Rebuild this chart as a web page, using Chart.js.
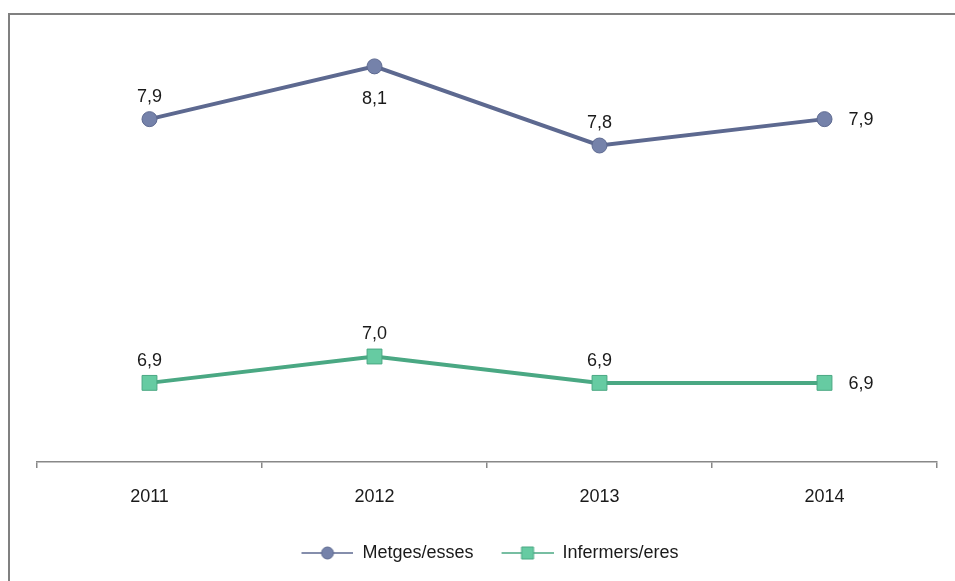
<!DOCTYPE html>
<html>
<head>
<meta charset="utf-8">
<script src="https://cdn.jsdelivr.net/npm/chart.js@4"></script>
<style>
  html, body { margin: 0; padding: 0; background: #fff; }
  #wrap { position: relative; width: 955px; height: 581px; overflow: hidden; }
  #frame { position: absolute; left: 8px; top: 13px; width: 1000px; height: 700px;
           border-left: 2px solid #808080; border-top: 2px solid #808080; }
  canvas { position: absolute; left: 0; top: 0; }
</style>
</head>
<body>
<div id="wrap">
  <div id="frame"></div>
  <canvas id="chart" width="955" height="581"></canvas>
</div>
<script>
// data
const years = ['2011', '2012', '2013', '2014'];
const metges = [7.9, 8.1, 7.8, 7.9];
const infermers = [6.9, 7.0, 6.9, 6.9];
const seriesNames = ['Metges/esses', 'Infermers/eres'];

// where each value label sits next to its point
const metgesLabelPos = ['above', 'below', 'above', 'right'];
const infermersLabelPos = ['above', 'above', 'above', 'right'];

const blueLine = '#5d6990';
const blueFill = '#7582aa';
const greenLine = '#4aa883';
const greenFill = '#66cba2';

// small images for the legend: line with marker in the middle
function legendIcon(lineColor, fillColor, shape) {
    const c = document.createElement('canvas');
    c.width = 70;
    c.height = 18;
    const g = c.getContext('2d');
    g.strokeStyle = lineColor;
    g.lineWidth = 1.5;
    g.beginPath();
    g.moveTo(18, 9);
    g.lineTo(70, 9);
    g.stroke();
    g.fillStyle = fillColor;
    g.lineWidth = 1;
    g.beginPath();
    if (shape === 'circle') {
        g.arc(44, 9, 6, 0, Math.PI * 2);
    } else {
        g.rect(38, 3, 12, 12);
    }
    g.fill();
    g.stroke();
    return c;
}
const icons = [legendIcon(blueLine, blueFill, 'circle'), legendIcon(greenLine, greenFill, 'rect')];

const valueLabels = {
    id: 'valueLabels',
    afterDatasetsDraw(chart) {
        const ctx = chart.ctx;
        const positions = [metgesLabelPos, infermersLabelPos];
        ctx.save();
        ctx.font = '18px "Liberation Sans", Arial, sans-serif';
        ctx.fillStyle = '#1a1a1a';
        ctx.textBaseline = 'middle';
        chart.data.datasets.forEach((ds, i) => {
            chart.getDatasetMeta(i).data.forEach((pt, j) => {
                const txt = ds.data[j].toFixed(1).replace('.', ',');
                const pos = positions[i][j];
                if (pos === 'right') {
                    ctx.textAlign = 'left';
                    ctx.fillText(txt, pt.x + 24, pt.y + 1);
                } else if (pos === 'below') {
                    ctx.textAlign = 'center';
                    ctx.fillText(txt, pt.x, pt.y + 33);
                } else {
                    ctx.textAlign = 'center';
                    ctx.fillText(txt, pt.x, pt.y - 22);
                }
            });
        });
        ctx.restore();
    }
};

// nudge the legend a little to the left, like the original
const legendShift = {
    id: 'legendShift',
    afterLayout(chart) {
        chart.legend.left -= 6;
        chart.legend.right -= 6;
    }
};

Chart.defaults.font.family = '"Liberation Sans", Arial, sans-serif';
Chart.defaults.font.size = 18;
Chart.defaults.color = '#1a1a1a';

document.addEventListener('DOMContentLoaded', function() {
    const ctx = document.getElementById('chart').getContext('2d');

    new Chart(ctx, {
        type: 'line',
        data: {
            labels: years,
            datasets: [
                {
                    label: seriesNames[0],
                    data: metges,
                    borderColor: blueLine,
                    borderWidth: 4,
                    pointStyle: 'circle',
                    pointRadius: 7.5,
                    pointBackgroundColor: blueFill,
                    pointBorderColor: blueLine,
                    pointBorderWidth: 1,
                    tension: 0,
                    fill: false
                },
                {
                    label: seriesNames[1],
                    data: infermers,
                    borderColor: greenLine,
                    borderWidth: 4,
                    pointStyle: 'rect',
                    pointRadius: 10.5,
                    pointBackgroundColor: greenFill,
                    pointBorderColor: greenLine,
                    pointBorderWidth: 1,
                    tension: 0,
                    fill: false
                }
            ]
        },
        options: {
            responsive: false,
            animation: false,
            layout: {
                padding: { left: 37, right: 18, top: 40, bottom: 9 }
            },
            plugins: {
                tooltip: { enabled: false },
                legend: {
                    position: 'bottom',
                    labels: {
                        usePointStyle: true,
                        pointStyleWidth: 70,
                        padding: 10,
                        font: { size: 18 },
                        generateLabels(chart) {
                            return chart.data.datasets.map((ds, i) => ({
                                text: ds.label,
                                pointStyle: icons[i],
                                fillStyle: 'transparent',
                                strokeStyle: 'transparent',
                                lineWidth: 0,
                                datasetIndex: i,
                                fontColor: '#1a1a1a'
                            }));
                        }
                    }
                }
            },
            scales: {
                x: {
                    offset: true,
                    grid: {
                        offset: true,
                        drawOnChartArea: false,
                        tickLength: 6,
                        color: '#888888',
                        lineWidth: 1.5
                    },
                    border: { color: '#888888', width: 1.5 },
                    ticks: { padding: 18, font: { size: 18 }, color: '#1a1a1a' },
                    afterFit(scale) { scale.height = 72; }
                },
                y: {
                    display: false,
                    min: 6.6,
                    max: 8.2
                }
            }
        },
        plugins: [valueLabels, legendShift]
    });
});
</script>
</body>
</html>
